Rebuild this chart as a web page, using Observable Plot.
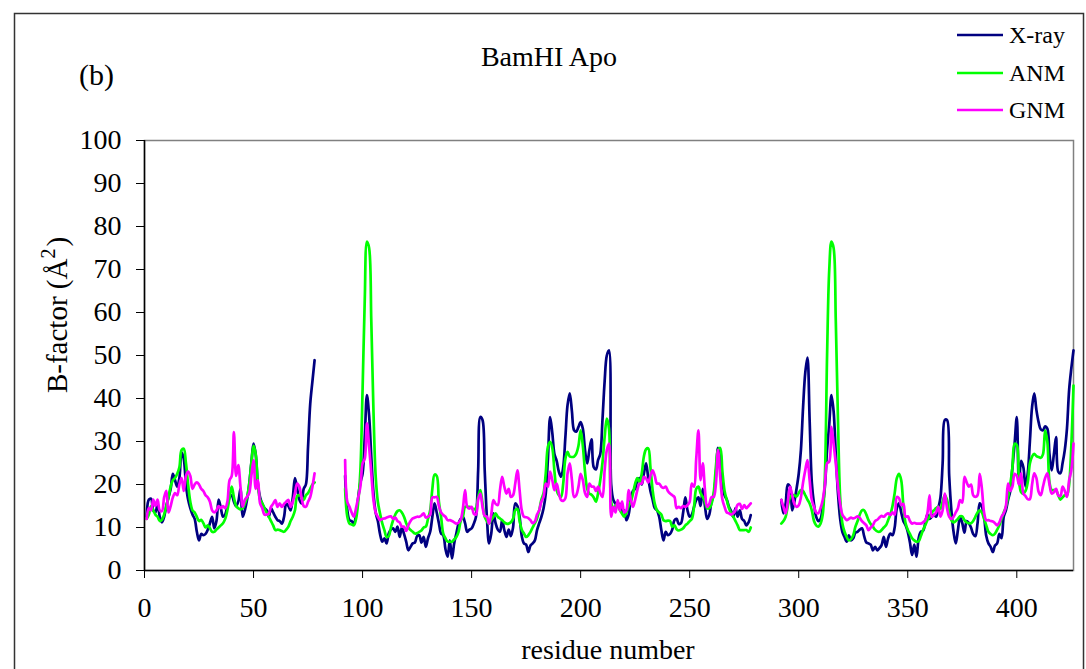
<!DOCTYPE html>
<html>
<head>
<meta charset="utf-8">
<script src="https://cdn.jsdelivr.net/npm/d3@7"></script>
<script src="https://cdn.jsdelivr.net/npm/@observablehq/plot@0.6"></script>
<style>
  html, body { margin: 0; padding: 0; background: #fff; }
  #wrap { position: relative; width: 1086px; height: 669px; overflow: hidden; }
  #wrap > svg.overlay { position: absolute; left: 0; top: 0; pointer-events: none; }
</style>
</head>
<body>
<div id="wrap"></div>
<script>
// ---------- DATA ----------
const chartTitle = "BamHI Apo";
const panelLabel = "(b)";
const seriesNames = ["X-ray", "ANM", "GNM"];
const seriesColors = ["#000080", "#00ff00", "#ff00ff"];
const xTicks = [0, 50, 100, 150, 200, 250, 300, 350, 400];
const yTicks = [0, 10, 20, 30, 40, 50, 60, 70, 80, 90, 100];
// first residue of each plotted segment (segments: 1-78, 92-278, 292-426)
const segStart = [1, 92, 292];

// X-ray B-factors
const xray1 = [
  12.5,16.5,16.7,14,13.5,15.5,12.5,11.2,12.5,15,
  17,19,22.5,21,19.5,21.5,27.5,26,20,16.5,
  14.5,13,12,9,7,8.5,8.2,8.5,9.5,11,
  12.5,9.8,11.5,16.5,14.5,12.5,13,15,17,17.5,
  16,15,16,19,12.5,14,16.4,20,25,29.5,
  27,20,17,15.5,14.5,14,12.5,14.5,13.5,12.5,
  11.7,11.5,10.9,12.5,15.6,15,14,17,21.5,19,
  16.5,15.6,19,20,28.8,38.8,44,48.9];
const xray2 = [
  22,14,11.7,11.5,10.9,13,17,20.5,22.5,31,
  40.8,36,26.4,18,13.5,11.5,8.5,6.7,7.5,6.3,
  8.6,9.5,9.8,9,10.2,7.8,10,8.5,6.7,4.7,
  5.5,6.3,6.5,8,8.2,6.5,7.8,5.5,7.5,9,
  12.5,15.6,13.5,11,8.6,8.2,5,3.2,7,2.8,
  6.3,8.6,10.9,12,12.5,11,9,9.5,9.8,10.9,
  12.5,23.3,35.7,35,23.3,12.5,6.3,8.6,13.3,11,
  9.5,9,11.7,9.4,7.8,9.5,8,10,15.6,15,
  12.5,8,6.3,6,4.3,5.8,6.3,7,9.4,11,
  12.5,14.5,17.9,26,35.7,32,27,25.5,23,21.8,
  24,31,38.5,41.2,37,32.6,32.3,33.4,34.5,33,
  28,24.9,28,30.5,24,23.5,25.7,27.1,35,44,
  50,51.2,20,16.4,15.5,14.8,15.5,13.5,14,11.7,
  13,16.4,18.5,19,21,21.5,20,22.5,24.9,21.5,
  18.5,16.5,14.5,14,12.5,9.4,7,9,8.2,8.5,
  9.5,11.7,12,10.8,11,13.5,17,14,12.5,13,
  14.8,16.4,17,15,19,15,12,13,16,17.5,
  22,28.5,26,21,17.5,16.5,14.8,13.8,12.5,14.5,
  12.5,14,12,11.5,10.5,11.2,12.9];
const xray3 = [
  16.4,13.3,15.5,20,19.5,14,16,19,22.5,28,
  38,46,49.5,35,20.5,15.5,12.5,11.5,12,15,
  19.5,28,34,40.8,37,27,18,12,9,7.8,
  6.7,8.2,7,7.5,8.8,9,9.5,9.8,8,6.5,
  6.3,6,4.7,5.5,4.7,5.2,5.9,7.8,5.5,7.5,
  8.6,8.2,10,14.5,15.6,13.5,11.5,10.5,9,6.5,
  3.6,6,3.2,7.5,9,9.2,11,13,12,12.5,
  13,12.5,14.5,17,25,35,35,22,14,9,
  6.3,9.4,12.5,11,8.8,11.5,11,10,8.5,8,
  11,15.6,14.8,12.5,8,6.3,5.5,4.3,5.8,6.3,
  8.5,7.5,12.5,14,16.4,18.5,24,29.5,35.7,20,
  25.5,24,19.5,22.5,30,38,41.2,37.3,34.5,32.8,
  32.6,33.5,33,27,23.3,27,31,23,22.6,25,
  28,33,42,47,51.2];

// ANM B-factors
const anm1 = [
  12,13,15,14,13,12.5,11.5,11.8,13,15,
  17,19.5,21,21.5,22.5,24,28,28.3,25,20,
  16,14,13.5,12.5,11.5,11.8,11,10,10.5,9.8,
  9,9,9.5,10,10.5,11,12,14,17,19.5,
  17,15,14.5,14.2,14.5,15.5,17,20,25,29,
  27,20,16.5,15.6,14.5,13.5,12.5,11.5,10.5,9.4,
  9.5,9.4,9.2,9,9.5,10.2,11.5,12.5,14,17.3,
  17.5,17,16.4,17.5,18,19,20,20.5];
const anm2 = [
  19,12.5,10.9,10.7,10.5,12,16,23.3,42,63,
  76.5,75,58,37,22,16,13.3,11,9.4,7.8,
  8,10,11.7,13,13.8,14,13.5,12.5,11,10,
  9.4,9,8.6,8.7,9,9.3,10,10.2,12,14,
  19,22.3,22,16,12.5,8.6,7.5,6.7,6.7,6.7,
  7.2,7.8,9,11.5,12.5,14.8,14.8,14.8,14.5,14.2,
  14.5,17,18.7,15.6,12.5,11.5,10.9,11.8,12.5,13.3,
  12.5,12.1,11.7,11.2,10.9,10.9,11.2,12,14,14.3,
  11.5,9.5,8.6,7.8,8.2,9,10,11,12.1,14,
  16.5,18,22.6,28.8,29.9,28.5,23,18.7,17.5,17.1,
  20.2,26,27.6,26.5,26.4,26.5,27.2,29,32.6,29,
  23,19,17.9,17.6,17,16,18,21,25,31,
  35.3,33,16,14.5,15,15.6,14,13.2,12.5,13.5,
  15,16,17.9,20.2,21.5,20.5,22.5,26.5,28.2,28.4,
  24,18.7,15.5,14,13.5,13,11.7,11.5,11.6,11.5,
  10.2,10.5,9.6,9.3,9.5,9.8,10.5,10.9,11.5,12,
  14.8,19,19.5,18,17.1,16,14.5,14.5,15.5,18,
  24,28,28.5,23,18.5,16.4,14.5,13.3,12.5,11.5,
  10.5,9.4,9.4,9.4,9.4,9,10];
const anm3 = [
  10.9,11.5,12.5,15,17,17.5,17.5,17.2,18,18.7,
  18.5,17.5,16.5,15.6,14,11.5,10.5,10.2,10.9,13,
  22,50,70,76.5,75,58,35,17,11,9,
  7.8,7,7.3,8.2,10.2,11.5,13,14,14,13,
  11.7,10.8,10.2,9.5,9.1,9,9.4,10,10.5,11.7,
  13,15,18,21.5,22.5,21,15,11,9.5,8.5,
  7.5,7,6.7,6.8,8,9.4,10.5,11.7,12.5,13.5,
  14,14.5,14.8,14.3,16,17.5,16.5,13.5,11.7,11.2,
  11.5,12,12.6,12.6,11.7,11.2,11,11,11.5,12.5,
  13.5,14,13.5,12,10.5,9,8.5,8.2,8.6,9.5,
  10.5,12,13.5,14.8,17,20,24,29.5,29.2,21,
  18.2,17.9,18.5,20.5,24.9,26.5,27.1,26.6,26.4,26.2,
  27,32.6,30,20.5,18.7,18.7,18.7,17.5,16.5,17,
  17.5,17.5,20,29,43];

// GNM B-factors
const gnm1 = [
  12,14.5,14,16.5,15,16.5,14,13.8,17,18.5,
  13.5,15,17,18,17.5,20,21.5,18.5,22,23,
  22,19,20,20.5,20,19,18.5,17.5,17,16,
  14,13.5,14,15,14.5,15,14.5,16,21,22,
  32.2,22,24.5,19.5,14.8,16.4,17.1,18,22,25.7,
  19,21,15.6,14.5,13,13,13.2,14.8,15.5,16.4,
  14.8,15.6,14.8,15.5,16,16.4,14.8,16,18,20.2,
  19.5,17,15,14.8,16,17.1,19.5,22.6];
const gnm2 = [
  25.7,16,14.8,13.5,12.5,14.5,17,19.5,24.9,26,
  34.2,28.8,22.6,16.4,13.5,12.5,11.7,12,12.1,12.3,
  12.5,12.6,12,12.3,11.5,11.2,10.2,10.2,9.2,10.5,
  11.5,12.1,12.3,12.5,12.5,12.8,13.3,12.3,12.5,13,
  17,17,17.1,15,13.5,12.9,12.5,11.7,11.7,11.5,
  11.2,10.9,11.1,11.8,14.4,18.7,14.8,14.4,14.8,13.2,
  13,16.5,17.9,14.8,12.7,12.5,10.9,13,16.4,15.5,
  15.2,18.7,21.8,19.5,17.9,19,17.1,17.5,20.2,23.3,
  18.7,14,12.5,12.4,12.2,11.7,11,11.4,13,14,
  16,17.1,20.2,19.5,23,21,18.7,20.2,18,16.4,
  16.2,16.8,22.6,24.9,21,17.1,17.5,19.5,22.5,21,
  18,17.1,20.2,19.5,19.5,18.5,19.5,18,17.1,23.3,
  28,29.5,12.5,14.8,13.5,16.4,14,16,13.5,14,
  18.7,16.5,14.8,16.5,18.7,20.2,20.2,21.8,21.4,20.5,
  22,23.3,22,20.2,20.2,19.5,19.2,19.5,18.5,17.9,
  17.5,17.1,14.5,14.8,14.5,15,14.8,15.2,16,20.2,
  19.5,26,32.6,21,24.9,18.7,14.8,15.5,17.1,17.1,
  20,28,21.8,16.5,14.8,13.5,13.3,13,13.3,14,
  15.3,15.5,14.3,15.2,14.5,15,15.6];
const gnm3 = [
  16.4,14.8,13.3,16,19.5,17.5,15.5,14.8,15.2,17,
  20.5,23.3,25.7,21,16.4,14.8,13.5,13.3,14.5,16.4,
  20,24.9,25.3,33.4,29.5,24.9,19.5,15.5,13,12.3,
  11.7,12,12.3,12.1,12.3,12.6,12.2,11.5,11,10.5,
  9.4,10,10.5,11.5,11.8,12.3,12.7,12.5,13,13.3,
  12.9,13.5,13,17.1,16.8,15.2,15.5,12.5,12.6,11.5,
  10.9,11.1,10.9,10.9,10.9,11.2,11.7,13.3,17.5,12.5,
  12.9,13.5,14.8,12.5,14,17.9,14.5,12.5,12,12.5,
  13.5,14.5,16.4,15.8,21.8,20.5,19.5,20,17.5,17.1,
  17.5,22.5,19,13.5,11.7,11.7,11.5,11.4,11,10.5,
  11.2,12.5,13.3,15,20.2,18.5,19.5,22.5,22,20,
  22.6,17.9,17.3,16.6,16.6,20,22.6,21.5,18.3,17.5,
  19.5,21.5,22.6,20,17.9,18.2,19,17.5,17.3,19.5,
  18.5,17.1,21,23.3,29.5];

// ---------- BUILD ----------
function rows(segs) {
  return segs.flatMap((vals, s) => vals.map((v, i) => ({residue: segStart[s] + i, value: v, seg: s})));
}
const seriesData = [rows([xray1, xray2, xray3]), rows([anm1, anm2, anm3]), rows([gnm1, gnm2, gnm3])];

const FONT = "'Liberation Serif', 'Times New Roman', serif";

const chart = Plot.plot({
  width: 1086,
  height: 669,
  marginLeft: 144,
  marginRight: 13,
  marginTop: 140,
  marginBottom: 99,
  style: {fontFamily: FONT, fontSize: "28px", color: "#000", background: "transparent"},
  x: {domain: [0, 426]},
  y: {domain: [0, 100]},
  marks: [
    Plot.frame({stroke: "#808080", strokeWidth: 1.5}),
    ...seriesData.map((d, k) => Plot.line(d, {
      x: "residue", y: "value", z: "seg",
      stroke: seriesColors[k], strokeWidth: 2.7, curve: "catmull-rom"
    })),
    Plot.ruleX([0], {stroke: "#000", strokeWidth: 1.5}),
    Plot.ruleY([0], {stroke: "#000", strokeWidth: 1.5}),
    Plot.axisY({ticks: yTicks, tickSize: 8, tickPadding: 15, fontSize: 28, label: null, tickFormat: d => String(d)}),
    Plot.axisX({ticks: xTicks, tickSize: 8, tickPadding: 19, fontSize: 28, label: null, tickFormat: d => String(d)})
  ]
});

const wrap = document.getElementById("wrap");
wrap.appendChild(chart);

// ---------- OVERLAY TEXT (title, legend, axis titles, outer frame) ----------
const svg = d3.select(wrap).append("svg")
  .attr("class", "overlay")
  .attr("width", 1086).attr("height", 669)
  .style("font-family", FONT);

svg.append("rect")
  .attr("x", 14.5).attr("y", 13.5).attr("width", 1069).attr("height", 700)
  .attr("fill", "none").attr("stroke", "#333").attr("stroke-width", 1.5);

svg.append("text").attr("x", 549).attr("y", 66).attr("text-anchor", "middle")
  .attr("font-size", 28).text(chartTitle);

svg.append("text").attr("x", 79).attr("y", 85)
  .attr("font-size", 30).text(panelLabel);

const legendY = [35, 73, 110];
seriesNames.forEach((name, k) => {
  svg.append("line").attr("x1", 957).attr("x2", 1003)
    .attr("y1", legendY[k]).attr("y2", legendY[k])
    .attr("stroke", seriesColors[k]).attr("stroke-width", 2.7);
  svg.append("text").attr("x", 1009).attr("y", legendY[k] + 8)
    .attr("font-size", 24).text(name);
});

const yl = svg.append("text")
  .attr("transform", "translate(67,315) rotate(-90)")
  .attr("text-anchor", "middle").attr("font-size", 29);
yl.append("tspan").text("B-factor (Å");
yl.append("tspan").attr("dy", -12).attr("font-size", 20).text("2");
yl.append("tspan").attr("dx", 2).attr("dy", 12).text(")");

svg.append("text").attr("x", 608).attr("y", 659).attr("text-anchor", "middle")
  .attr("font-size", 28).text("residue number");
</script>
</body>
</html>
